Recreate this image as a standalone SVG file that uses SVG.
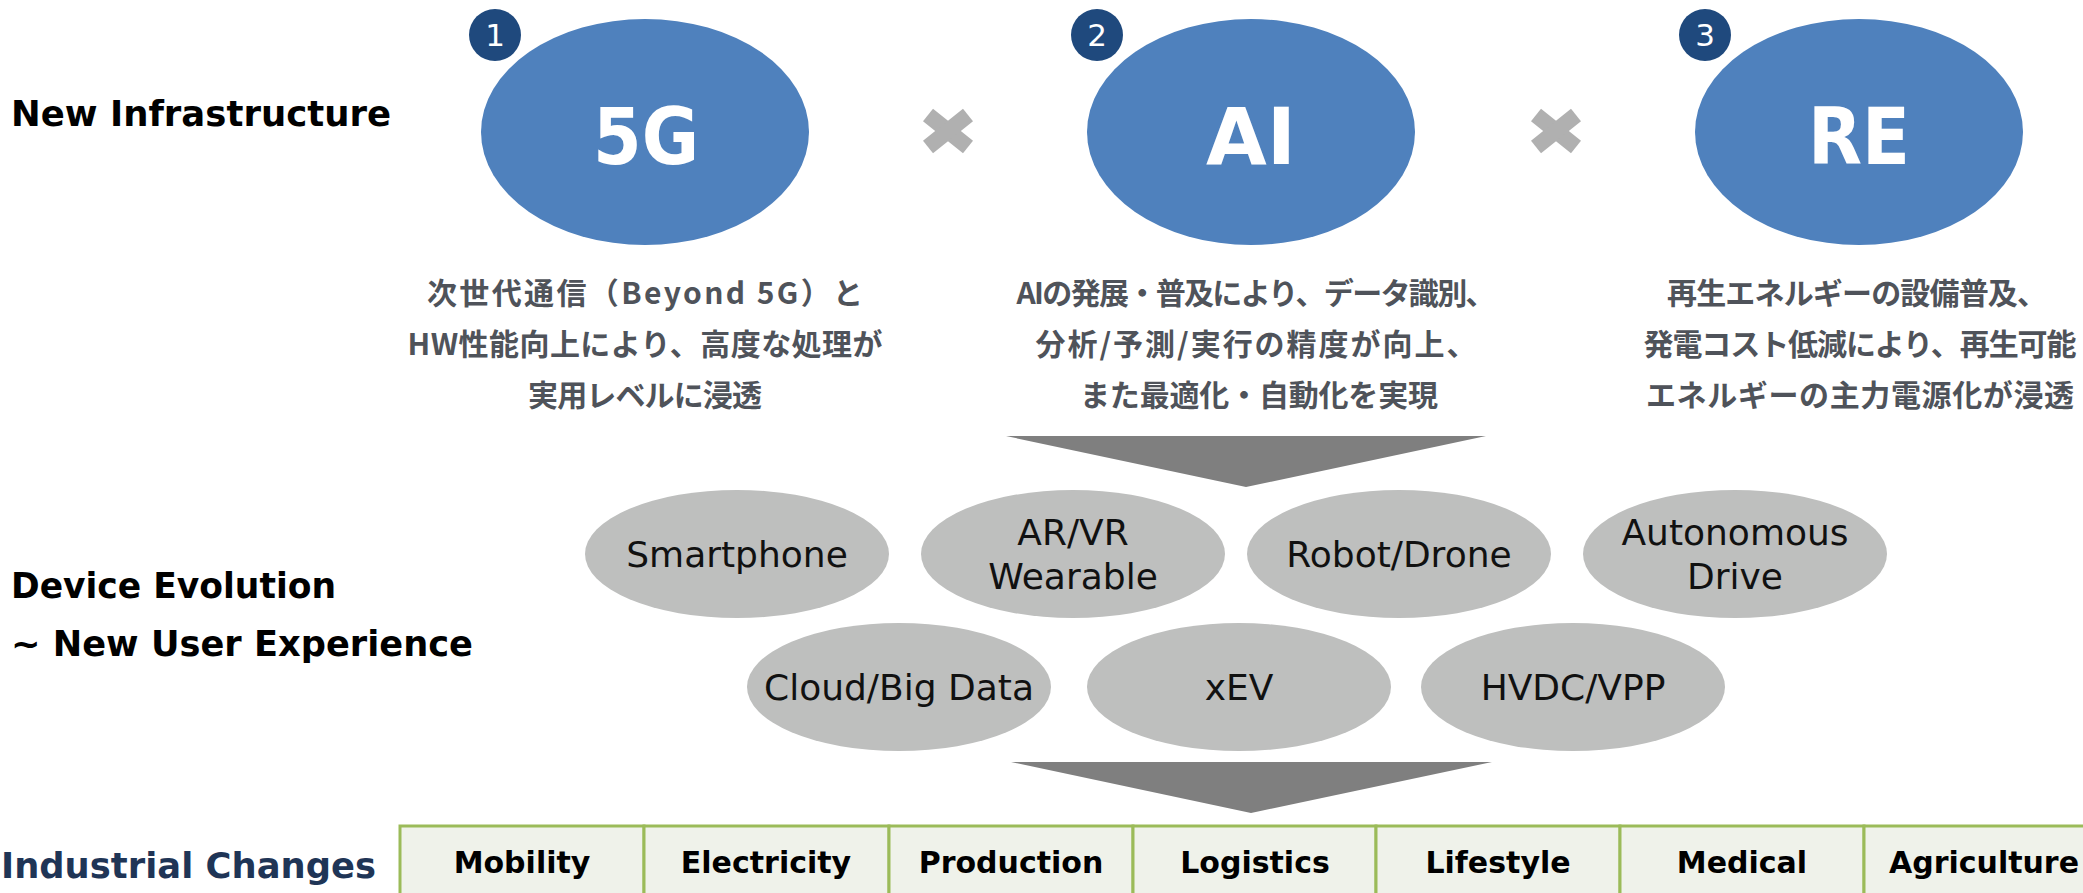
<svg xmlns="http://www.w3.org/2000/svg" width="2083" height="893" viewBox="0 0 2083 893">
<style>
.head{font-family:"DejaVu Sans","Verdana",sans-serif;font-weight:bold;font-size:35px;fill:#000}
.big{font-family:"DejaVu Sans","Verdana",sans-serif;font-weight:bold;font-size:78px;fill:#fff;text-anchor:middle}
.badge{fill:#1f497d}
.badgetxt{font-family:"DejaVu Sans","Verdana",sans-serif;font-size:31px;fill:#fff;text-anchor:middle}
.blue{fill:#4f81bd}
.jp{font-family:"Noto Sans CJK JP","Noto Sans CJK SC",sans-serif;font-weight:bold;font-size:30px;fill:#4f535a;text-anchor:middle}
.gray{fill:#bebfbe}
.dev{font-family:"DejaVu Sans","Verdana",sans-serif;font-size:36px;fill:#111;text-anchor:middle}
.cell{fill:#eff2ea;stroke:#9bbb59;stroke-width:3}
.celltxt{font-family:"DejaVu Sans","Verdana",sans-serif;font-weight:bold;font-size:30px;fill:#000;text-anchor:middle}
.times{stroke:#b0b0b0;stroke-width:16;stroke-linecap:butt}
.tri{fill:#7f7f7f}
</style>
<rect width="2083" height="893" fill="#fff"/>

<g id="labels">
<text class="head" x="11" y="126" textLength="380" lengthAdjust="spacingAndGlyphs">New Infrastructure</text>
<text class="head" x="11" y="598" textLength="325" lengthAdjust="spacingAndGlyphs">Device Evolution</text>
<text class="head" x="11" y="656" textLength="462" lengthAdjust="spacingAndGlyphs">~ New User Experience</text>
<text class="head" x="1" y="878" style="font-size:36px;fill:#1f3556" textLength="375" lengthAdjust="spacingAndGlyphs">Industrial Changes</text>
</g>

<g id="node-5g">
<ellipse class="blue" cx="645" cy="132" rx="164" ry="113"/>
<text class="big" x="646" y="164" textLength="106" lengthAdjust="spacingAndGlyphs">5G</text>
<circle class="badge" cx="495" cy="35" r="26"/>
<text class="badgetxt" x="495" y="46">1</text>
<text class="jp" x="645" y="304" textLength="436">次世代通信（Beyond 5G）と</text>
<text class="jp" x="645" y="355" textLength="475">HW性能向上により、高度な処理が</text>
<text class="jp" x="645" y="406" textLength="234">実用レベルに浸透</text>
</g>

<g id="node-ai">
<ellipse class="blue" cx="1251" cy="132" rx="164" ry="113"/>
<text class="big" x="1251" y="164" textLength="90" lengthAdjust="spacingAndGlyphs">AI</text>
<circle class="badge" cx="1097" cy="35" r="26"/>
<text class="badgetxt" x="1097" y="46">2</text>
<text class="jp" x="1256" y="304" textLength="479">AIの発展・普及により、データ識別、</text>
<text class="jp" x="1256" y="355" textLength="441">分析/予測/実行の精度が向上、</text>
<text class="jp" x="1259" y="406" textLength="358">また最適化・自動化を実現</text>
</g>

<g id="node-re">
<ellipse class="blue" cx="1859" cy="132" rx="164" ry="113"/>
<text class="big" x="1859" y="164" textLength="102" lengthAdjust="spacingAndGlyphs">RE</text>
<circle class="badge" cx="1705" cy="35" r="26"/>
<text class="badgetxt" x="1705" y="46">3</text>
<text class="jp" x="1857" y="304" textLength="380">再生エネルギーの設備普及、</text>
<text class="jp" x="1860" y="355" textLength="433">発電コスト低減により、再生可能</text>
<text class="jp" x="1860" y="406" textLength="428">エネルギーの主力電源化が浸透</text>
</g>

<g id="times-1" transform="translate(948,131)">
<line class="times" x1="-20" y1="-16" x2="20" y2="16"/>
<line class="times" x1="-20" y1="16" x2="20" y2="-16"/>
</g>
<g id="times-2" transform="translate(1556,131)">
<line class="times" x1="-20" y1="-16" x2="20" y2="16"/>
<line class="times" x1="-20" y1="16" x2="20" y2="-16"/>
</g>

<g id="connectors">
<polygon class="tri" points="1006,436 1486,436 1246,487"/>
<polygon class="tri" points="1011,762 1492,762 1251,813"/>
</g>

<g id="node-smartphone">
<ellipse class="gray" cx="737" cy="554" rx="152" ry="64"/>
<text class="dev" x="737" y="567">Smartphone</text>
</g>
<g id="node-arvr">
<ellipse class="gray" cx="1073" cy="554" rx="152" ry="64"/>
<text class="dev" x="1073" y="545">AR/VR</text>
<text class="dev" x="1073" y="589">Wearable</text>
</g>
<g id="node-robot">
<ellipse class="gray" cx="1399" cy="554" rx="152" ry="64"/>
<text class="dev" x="1399" y="567">Robot/Drone</text>
</g>
<g id="node-autonomous">
<ellipse class="gray" cx="1735" cy="554" rx="152" ry="64"/>
<text class="dev" x="1735" y="545">Autonomous</text>
<text class="dev" x="1735" y="589">Drive</text>
</g>
<g id="node-cloud">
<ellipse class="gray" cx="899" cy="687" rx="152" ry="64"/>
<text class="dev" x="899" y="700">Cloud/Big Data</text>
</g>
<g id="node-xev">
<ellipse class="gray" cx="1239" cy="687" rx="152" ry="64"/>
<text class="dev" x="1239" y="700">xEV</text>
</g>
<g id="node-hvdc">
<ellipse class="gray" cx="1573" cy="687" rx="152" ry="64"/>
<text class="dev" x="1573" y="700">HVDC/VPP</text>
</g>

<g id="table">
<rect class="cell" x="400" y="826" width="244" height="80"/>
<rect class="cell" x="644" y="826" width="245" height="80"/>
<rect class="cell" x="889" y="826" width="244" height="80"/>
<rect class="cell" x="1133" y="826" width="243" height="80"/>
<rect class="cell" x="1376" y="826" width="244" height="80"/>
<rect class="cell" x="1620" y="826" width="244" height="80"/>
<rect class="cell" x="1864" y="826" width="244" height="80"/>
<text class="celltxt" x="522" y="873">Mobility</text>
<text class="celltxt" x="766" y="873">Electricity</text>
<text class="celltxt" x="1011" y="873">Production</text>
<text class="celltxt" x="1255" y="873">Logistics</text>
<text class="celltxt" x="1498" y="873">Lifestyle</text>
<text class="celltxt" x="1742" y="873">Medical</text>
<text class="celltxt" x="1984" y="873">Agriculture</text>
</g>
</svg>
